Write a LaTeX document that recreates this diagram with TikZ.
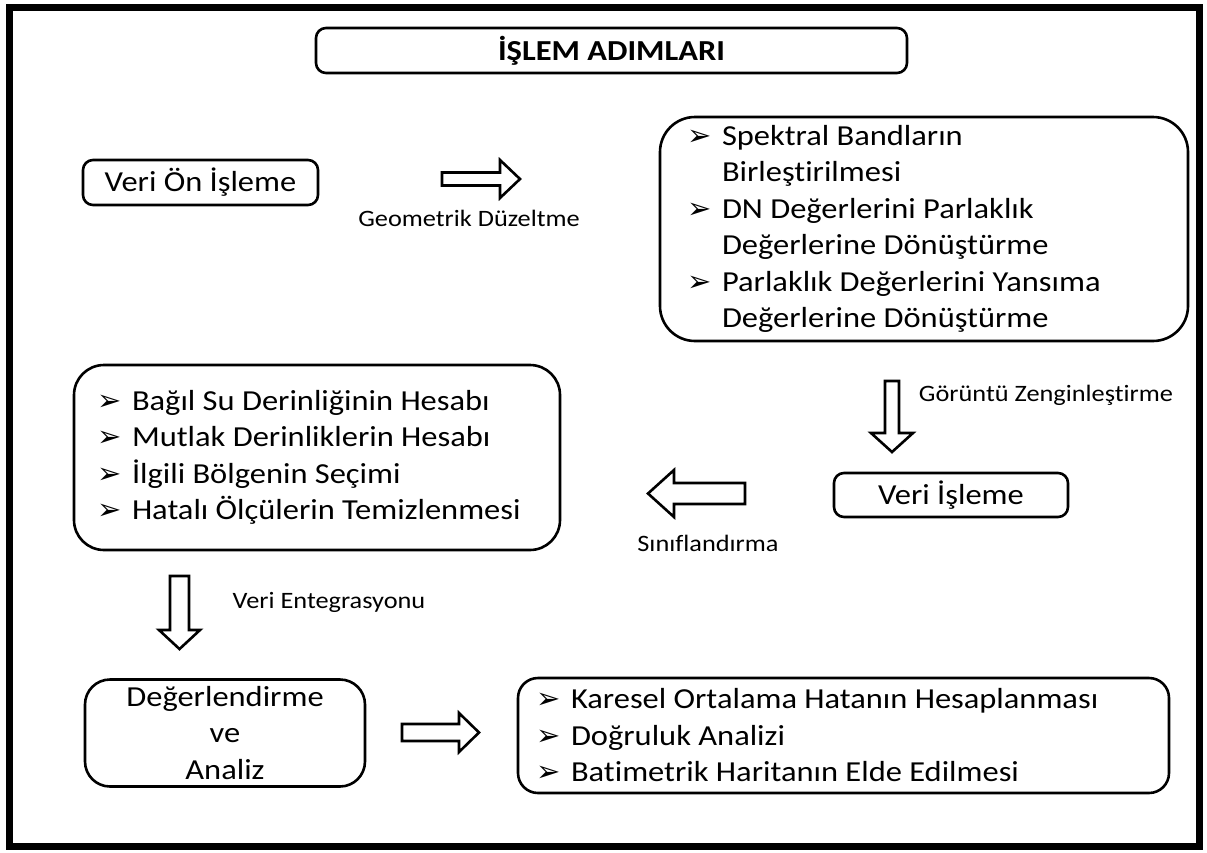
\documentclass[tikz,border=0pt]{standalone}
\usepackage{fontspec}
\setmainfont{Carlito}[FakeStretch=1.12, Ligatures=NoCommon]
\newfontfamily\bulfont{DejaVu Sans}
\newcommand\bul{\makebox[35pt][l]{\bulfont\fontsize{29}{29}\selectfont ➢}}
\newcommand\cont{\hspace*{35pt}}
\begin{document}
\begin{tikzpicture}[x=1pt,y=-1pt,
  box/.style={draw, line width=2.6pt, rounded corners=10pt, inner sep=0pt, anchor=center,
    font=\fontsize{29}{36.5}\selectfont},
  listbox/.style={box, align=flush left},
  barrow/.style={draw, line width=2.6pt, line join=miter},
  lbl/.style={font=\fontsize{23.5}{26}\selectfont, inner sep=0pt, anchor=center}]
\useasboundingbox (0,0) rectangle (1207,852);
\draw[line width=7pt] (9,7) rectangle (1199,846);

\node[box, minimum width=591pt, minimum height=45pt, font=\fontsize{29}{34}\selectfont\bfseries] (title) at (611.5,50.5) {İŞLEM ADIMLARI};

\node[box, minimum width=235pt, minimum height=45pt] (vo) at (200.5,182.5) {Veri Ön İşleme};

\node[listbox, rounded corners=35pt, minimum height=224pt, text width=474pt, inner xsep=27pt] (sp) at (924,229)
  {\bul Spektral Bandların\\ \cont Birleştirilmesi\\ \bul DN Değerlerini Parlaklık\\ \cont Değerlerine Dönüştürme\\ \bul Parlaklık Değerlerini Yansıma\\ \cont Değerlerine Dönüştürme};

\node[box, minimum width=234pt, minimum height=44pt] (vi) at (951,495) {Veri İşleme};

\node[listbox, rounded corners=30pt, minimum height=185pt, text width=440pt, inner xsep=23pt] (bg) at (317,457.5)
  {\bul Bağıl Su Derinliğinin Hesabı\\ \bul Mutlak Derinliklerin Hesabı\\ \bul İlgili Bölgenin Seçimi\\ \bul Hatalı Ölçülerin Temizlenmesi};

\node[box, rounded corners=25pt, minimum width=280pt, minimum height=107pt, align=center] (da) at (225,733)
  {Değerlendirme\\ ve\\ Analiz};

\node[listbox, rounded corners=20pt, minimum height=115pt, text width=615pt, inner xsep=18pt] (ka) at (843.5,735.5)
  {\bul Karesel Ortalama Hatanın Hesaplanması\\ \bul Doğruluk Analizi\\ \bul Batimetrik Haritanın Elde Edilmesi};

% block arrows
\draw[barrow] (442,172.5) -- (500,172.5) -- (500,160) -- (520,179) -- (500,198) -- (500,185.5) -- (442,185.5) -- cycle;
\draw[barrow] (885,381) -- (899,381) -- (899,433) -- (913,433) -- (892,452) -- (871,433) -- (885,433) -- cycle;
\draw[barrow] (745,483) -- (674,483) -- (674,470) -- (648,493.5) -- (674,517) -- (674,504) -- (745,504) -- cycle;
\draw[barrow] (170,576) -- (189,576) -- (189,630) -- (200,630) -- (179.5,649) -- (159,630) -- (170,630) -- cycle;
\draw[barrow] (402,724) -- (459,724) -- (459,713) -- (479,732.5) -- (459,752) -- (459,741) -- (402,741) -- cycle;

\node[lbl] (l1) at (469,218) {Geometrik Düzeltme};
\node[lbl] (l2) at (1046,395) {Görüntü Zenginleştirme};
\node[lbl] (l3) at (708,543) {Sınıflandırma};
\node[lbl] (l4) at (329,602) {Veri Entegrasyonu};
\end{tikzpicture}
\end{document}
